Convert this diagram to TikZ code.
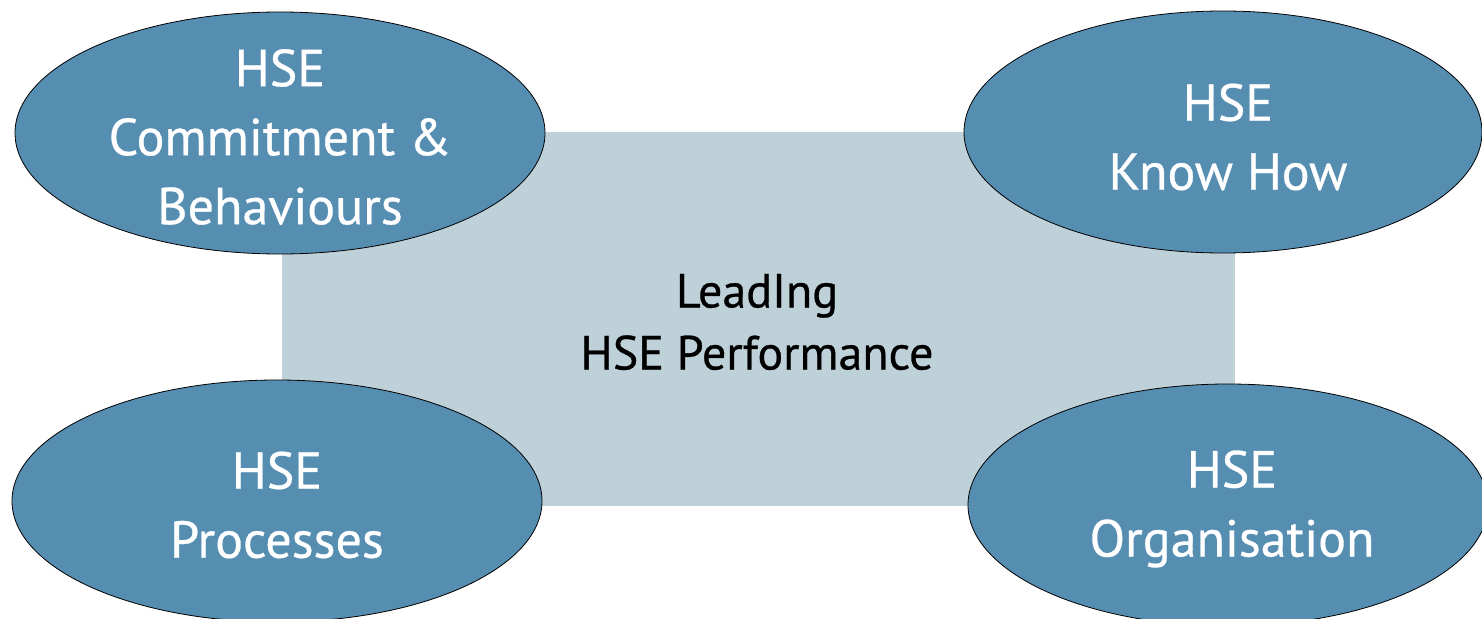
\documentclass[tikz,border=0pt]{standalone}
\usepackage{fontspec}
\setmainfont{PT Sans}[FakeBold=0.6]
\usetikzlibrary{shapes.geometric}
\definecolor{ellblue}{RGB}{86,142,178}
\definecolor{rectgray}{RGB}{191,209,216}
\begin{document}
\begin{tikzpicture}[x=1pt,y=-1pt,
  oval/.style={ellipse, draw=black, line width=0.8pt, fill=ellblue, minimum width=530pt, minimum height=242pt, inner sep=0pt},
  ovaltext/.style={align=center, text=white, font=\fontsize{52}{69}\selectfont, inner sep=0pt},
  coretextstyle/.style={align=center, text=black, font=\fontsize{48}{62}\selectfont, inner sep=0pt}]
\useasboundingbox (0,0) rectangle (1482,618);
\clip (0,0) rectangle (1482,618);
\node[rectangle, fill=rectgray, minimum width=953pt, minimum height=374pt, inner sep=0pt] (core) at (758.5,319) {};
\node[coretextstyle] (coretext) at (757,322) {LeadIng\\HSE Performance};
\node[oval] (tl) at (280,133) {};
\node[oval, minimum width=518pt] (tr) at (1223,132) {};
\node[oval] (bl) at (277,501) {};
\node[oval, minimum width=520pt] (br) at (1228,505) {};
\node[ovaltext] (tltext) at (280,137) {HSE\\Commitment \&\\Behaviours};
\node[ovaltext] (trtext) at (1228,137) {HSE\\Know How};
\node[ovaltext] (bltext) at (277,505) {HSE\\Processes};
\node[ovaltext] (brtext) at (1232,509) {HSE\\Organisation};
\end{tikzpicture}
\end{document}
